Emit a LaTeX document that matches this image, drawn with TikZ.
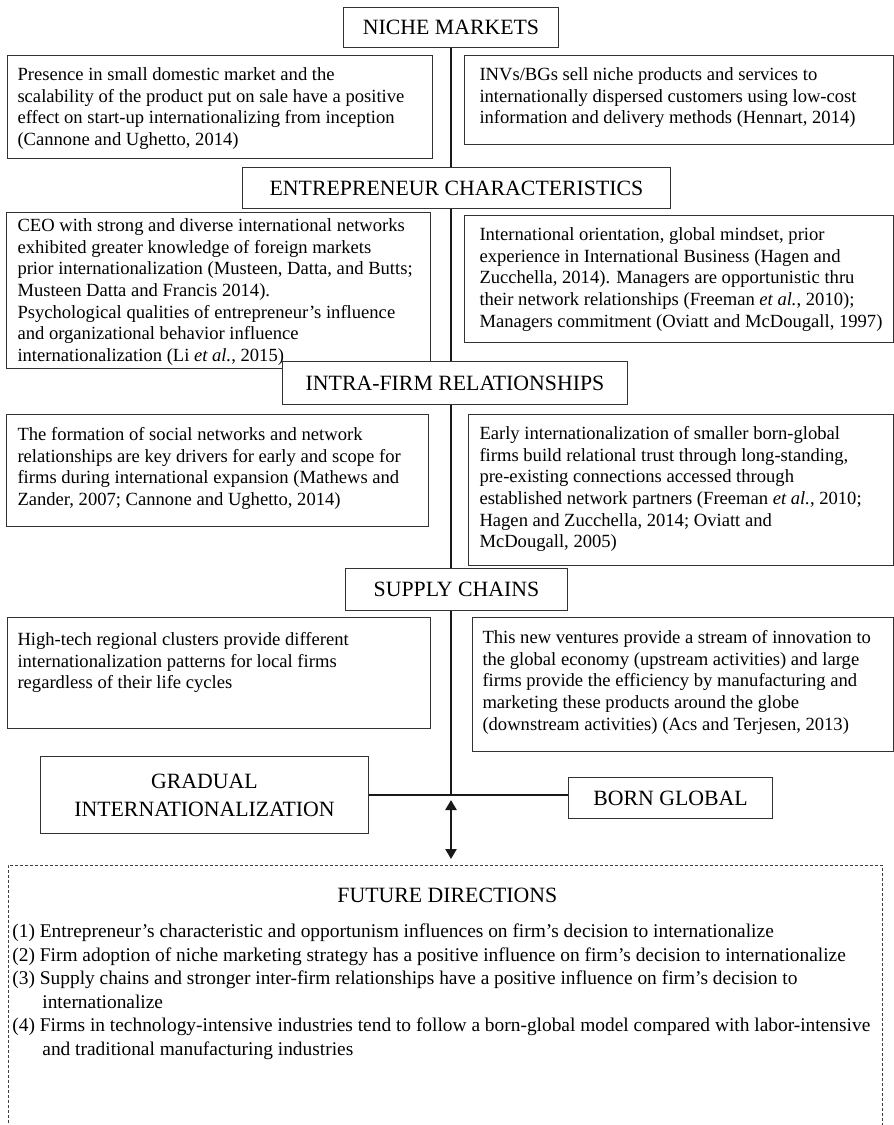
\documentclass[tikz,border=0pt]{standalone}
\usepackage{fontspec}
\setmainfont{Liberation Serif}
\usetikzlibrary{arrows.meta,backgrounds}

\newcommand{\bodysize}{\fontsize{18.6}{21.6}\selectfont}
\newcommand{\listsize}{\fontsize{19.4}{23.5}\selectfont}
\newcommand{\headsize}{\fontsize{21.8}{28}\selectfont}
% text block of a box: width, height, lines
\newcommand{\boxlines}[3]{\parbox[t][#2pt][t]{#1pt}{\begin{tabular}[t]{@{}l@{}}#3\end{tabular}}}

\tikzset{
  headbox/.style={draw=black!80, line width=1pt, fill=white, font=\headsize,
    anchor=north west, inner sep=0pt, align=center},
  notebox/.style={draw=black!80, line width=1pt, fill=white, font=\bodysize,
    anchor=north west, inner xsep=10pt, inner ysep=10pt},
  futurebox/.style={draw=black!75, line width=0.8pt, dash pattern=on 3pt off 2pt,
    font=\listsize, anchor=north west, inner xsep=4pt, inner ysep=21pt},
  trunk/.style={draw=black!90, line width=2.4pt},
  twoway/.style={{Triangle[width=11pt,length=10pt]}-{Triangle[width=11pt,length=10pt]}}
}

\begin{document}
\begin{tikzpicture}[x=1pt, y=-1pt]
\useasboundingbox (0,0) rectangle (894,1125);
\clip (0,0) rectangle (894,1125);

% niche markets
\node[notebox] (nicheL) at (7,55) {\boxlines{405}{83}{%
  Presence in small domestic market and the\\
  scalability of the product put on sale have a positive\\
  effect on start-up internationalizing from inception\\
  (Cannone and Ughetto, 2014)}};
\node[notebox, inner xsep=15pt] (nicheR) at (464,55) {\boxlines{399}{69}{%
  INVs/BGs sell niche products and services to\\
  internationally dispersed customers using low-cost\\
  information and delivery methods (Hennart, 2014)}};

% entrepreneur characteristics
\node[notebox, inner xsep=11pt, inner ysep=4pt] (entreL) at (6,212) {\boxlines{402}{148}{%
  CEO with strong and diverse international networks\\
  exhibited greater knowledge of foreign markets\\
  prior internationalization (Musteen, Datta, and Butts;\\
  Musteen Datta and Francis 2014).\\
  Psychological qualities of entrepreneur’s influence\\
  and organizational behavior influence\\
  internationalization (Li \textit{et al.}, 2015)}};
\node[notebox, inner xsep=15pt] (entreR) at (464,215) {\boxlines{399}{107}{%
  International orientation, global mindset, prior\\
  experience in International Business (Hagen and\\
  Zucchella, 2014). Managers are opportunistic thru\\
  their network relationships (Freeman \textit{et al.}, 2010);\\
  Managers commitment (Oviatt and McDougall, 1997)}};

% intra-firm relationships
\node[notebox, inner xsep=11pt, inner ysep=11pt] (intraL) at (6,414) {\boxlines{400}{90}{%
  The formation of social networks and network\\
  relationships are key drivers for early and scope for\\
  firms during international expansion (Mathews and\\
  Zander, 2007; Cannone and Ughetto, 2014)}};
\node[notebox, inner xsep=11pt] (intraR) at (468,414) {\boxlines{403}{131}{%
  Early internationalization of smaller born-global\\
  firms build relational trust through long-standing,\\
  pre-existing connections accessed through\\
  established network partners (Freeman \textit{et al.}, 2010;\\
  Hagen and Zucchella, 2014; Oviatt and\\
  McDougall, 2005)}};

% supply chains
\node[notebox, inner ysep=13pt] (supplyL) at (7,617) {\boxlines{403}{85}{%
  High-tech regional clusters provide different\\
  internationalization patterns for local firms\\
  regardless of their life cycles}};
\node[notebox, inner ysep=11pt] (supplyR) at (472,617) {\boxlines{401}{112}{%
  This new ventures provide a stream of innovation to\\
  the global economy (upstream activities) and large\\
  firms provide the efficiency by manufacturing and\\
  marketing these products around the globe\\
  (downstream activities) (Acs and Terjesen, 2013)}};

% headings
\node[headbox, minimum width=215, minimum height=40] (niche) at (343,7) {NICHE MARKETS};
\node[headbox, minimum width=428, minimum height=41] (entre) at (242,167) {ENTREPRENEUR CHARACTERISTICS};
\node[headbox, minimum width=345, minimum height=43] (intra) at (282,361) {INTRA-FIRM RELATIONSHIPS};
\node[headbox, minimum width=222, minimum height=42] (supply) at (345,568) {SUPPLY CHAINS};
\node[headbox, minimum width=328, minimum height=77] (gradual) at (40,756) {GRADUAL\\ INTERNATIONALIZATION};
\node[headbox, minimum width=204, minimum height=41] (born) at (568,777) {BORN GLOBAL};

% future directions
\node[futurebox] (future) at (8,865) {\parbox[t][260pt][t]{866pt}{\begin{tabular}[t]{@{}l@{}}
  \multicolumn{1}{c}{\headsize\hspace*{12pt}FUTURE DIRECTIONS}\\[11.5pt]
  (1) Entrepreneur’s characteristic and opportunism influences on firm’s decision to internationalize\\
  (2) Firm adoption of niche marketing strategy has a positive influence on firm’s decision to internationalize\\
  (3) Supply chains and stronger inter-firm relationships have a positive influence on firm’s decision to\\
  \hspace*{30pt}internationalize\\
  (4) Firms in technology-intensive industries tend to follow a born-global model compared with labor-intensive\\
  \hspace*{30pt}and traditional manufacturing industries
\end{tabular}}};

% connectors
\coordinate (junc) at (niche.south |- gradual.east);
\begin{scope}[on background layer]
  \draw[trunk] (niche.south) -- (junc);
\end{scope}
\draw[trunk] (gradual.east) -- (gradual.east -| born.west);
\draw[trunk, twoway, shorten <=5pt, shorten >=6pt] (junc) -- (junc |- future.north);
\end{tikzpicture}
\end{document}
